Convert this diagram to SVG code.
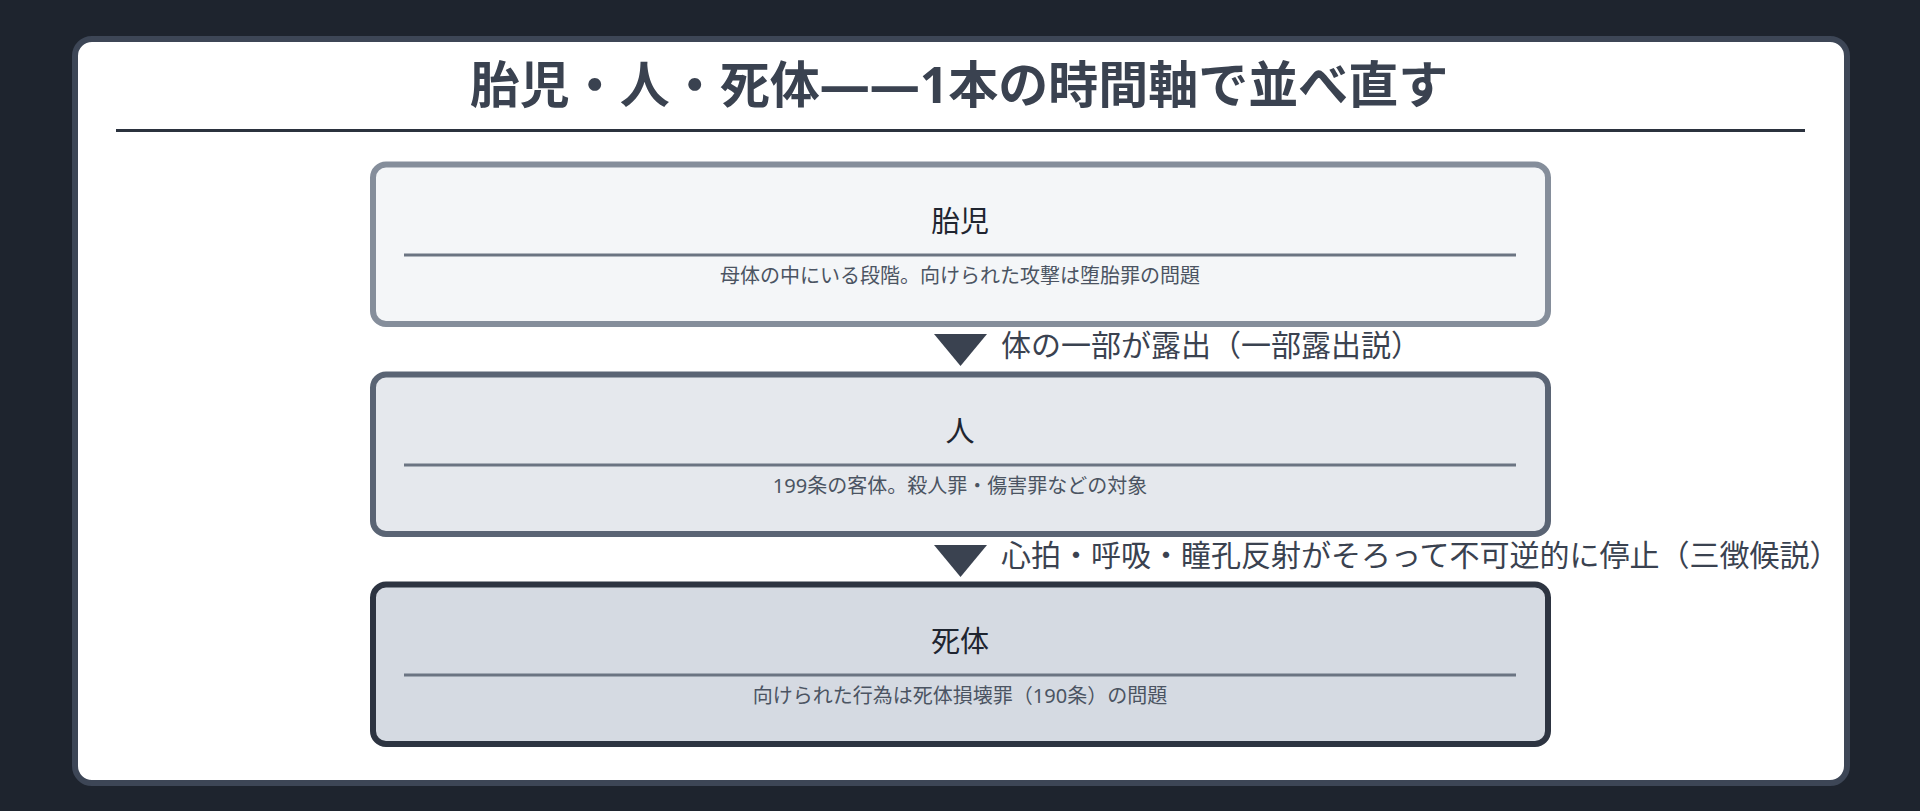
<svg xmlns="http://www.w3.org/2000/svg" width="1920" height="811" viewBox="0 0 1920 811">
<style>
text{font-family:"Noto Sans","Noto Sans CJK JP",sans-serif;text-anchor:middle}
.title{font-size:50px;font-weight:700;fill:#3a4250}
.ntitle{font-size:29px;fill:#1f2530}
.nsub{font-size:20px;fill:#4b5462}
.div{stroke:#6b7482;stroke-width:3}
.box{stroke-width:6}
.lbl{font-size:30px;fill:#3a4250;text-anchor:start}
.tri{fill:#3a4250}
</style>
<rect x="0" y="0" width="1920" height="811" fill="#1e242e"/>
<rect x="75" y="39" width="1772" height="744" rx="17" fill="#ffffff" stroke="#3d4656" stroke-width="6"/>
<g id="title">
<text class="title" x="959" y="103">胎児・人・死体——1本の時間軸で並べ直す</text>
<line x1="116" y1="130.5" x2="1805" y2="130.5" stroke="#2b323e" stroke-width="3"/>
</g>
<g id="connectors">
<polygon class="tri" points="934,334 987,334 960.5,366"/>
<text class="lbl" x="1001" y="355.5">体の一部が露出（一部露出説）</text>
<polygon class="tri" points="934,545 987,545 960.5,577"/>
<text class="lbl" x="1001" y="566">心拍・呼吸・瞳孔反射がそろって不可逆的に停止（三徴候説）</text>
</g>
<g id="node-fetus">
<rect class="box" x="373" y="164.5" width="1175" height="159.5" rx="13" fill="#f4f6f8" stroke="#858e9b"/>
<text class="ntitle" x="960" y="232">胎児</text>
<line class="div" x1="404" y1="255" x2="1516" y2="255"/>
<text class="nsub" x="960" y="282.5">母体の中にいる段階。向けられた攻撃は堕胎罪の問題</text>
</g>
<g id="node-person">
<rect class="box" x="373" y="374.5" width="1175" height="159.5" rx="13" fill="#e5e8ed" stroke="#5a6474"/>
<text class="ntitle" x="960" y="442">人</text>
<line class="div" x1="404" y1="465" x2="1516" y2="465"/>
<text class="nsub" x="960" y="492.5">199条の客体。殺人罪・傷害罪などの対象</text>
</g>
<g id="node-corpse">
<rect class="box" x="373" y="584.5" width="1175" height="159.5" rx="13" fill="#d5dae2" stroke="#2d3441"/>
<text class="ntitle" x="960" y="652">死体</text>
<line class="div" x1="404" y1="675" x2="1516" y2="675"/>
<text class="nsub" x="960" y="702.5">向けられた行為は死体損壊罪（190条）の問題</text>
</g>
</svg>
